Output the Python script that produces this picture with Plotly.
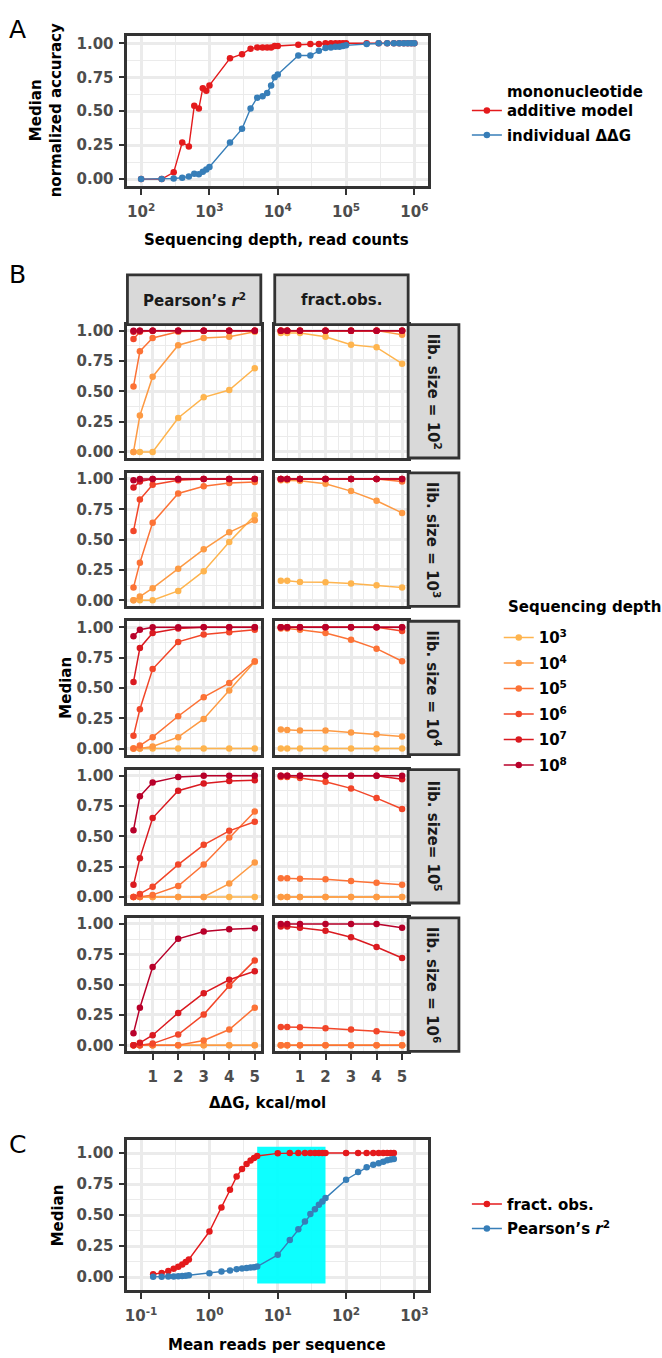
import plotly.graph_objects as go

W, H = 662, 1358

# ---------------- Panel A data ----------------
seq_depth_a = [100, 200, 300, 400, 500, 600, 700, 800, 900,
               1000, 2000, 3000, 4000, 5000, 6000, 7000, 8000, 9000,
               10000, 20000, 30000, 40000, 50000, 60000, 70000, 80000, 90000,
               100000, 200000, 300000, 400000, 500000, 600000, 700000, 800000, 900000,
               1000000]
acc_additive = [0, 0, 0.05, 0.27, 0.24, 0.54, 0.52, 0.67, 0.65,
                0.69, 0.89, 0.92, 0.96, 0.97, 0.97, 0.97, 0.97, 0.98,
                0.98, 0.99, 0.995, 0.995, 1, 1, 1, 1, 1,
                1, 1, 1, 1, 1, 1, 1, 1, 1,
                1]
acc_individual = [0, 0, 0.005, 0.01, 0.02, 0.04, 0.035, 0.055, 0.07,
                  0.09, 0.27, 0.37, 0.52, 0.60, 0.61, 0.635, 0.69, 0.75,
                  0.77, 0.91, 0.91, 0.945, 0.965, 0.97, 0.975, 0.975, 0.98,
                  0.985, 0.995, 1, 1, 1, 1, 1, 1, 1,
                  1]
series_a_names = ["mononucleotide<br>additive model", "individual ΔΔG"]
a_xticks = [1e2, 1e3, 1e4, 1e5, 1e6]
a_xticktext = ["10<sup>2</sup>", "10<sup>3</sup>", "10<sup>4</sup>", "10<sup>5</sup>", "10<sup>6</sup>"]

# ---------------- Panel B data ----------------
ddg_kcal = [0.25, 0.5, 1, 2, 3, 4, 5]
depth_labels = ["10<sup>3</sup>", "10<sup>4</sup>", "10<sup>5</sup>",
                "10<sup>6</sup>", "10<sup>7</sup>", "10<sup>8</sup>"]
depth_legend_title = "Sequencing depth"
lib_labels = ["lib. size = 10<sup>2</sup>", "lib. size = 10<sup>3</sup>",
              "lib. size = 10<sup>4</sup>", "lib. size= 10<sup>5</sup>",
              "lib. size = 10<sup>6</sup>"]
metric_labels = ["Pearson’s <i>r</i><sup>2</sup>", "fract.obs."]

# Pearson's r^2 ; one list per sequencing depth 10^3 .. 10^8
pearson_lib1e2 = [
    [0, 0, 0, 0.28, 0.45, 0.51, 0.69],
    [0, 0.30, 0.62, 0.88, 0.94, 0.95, 0.99],
    [0.54, 0.83, 0.94, 0.99, 1.0, 1.0, 1.0],
    [0.93, 0.99, 1.0, 1.0, 1.0, 1.0, 1.0],
    [0.99, 1.0, 1.0, 1.0, 1.0, 1.0, 1.0],
    [1.0, 1.0, 1.0, 1.0, 1.0, 1.0, 1.0],
]
pearson_lib1e3 = [
    [0, 0, 0, 0.077, 0.24, 0.48, 0.70],
    [0, 0.03, 0.10, 0.26, 0.42, 0.56, 0.66],
    [0.105, 0.31, 0.64, 0.88, 0.94, 0.967, 0.975],
    [0.57, 0.83, 0.953, 0.99, 1.0, 1.0, 1.0],
    [0.93, 0.98, 1.0, 1.0, 1.0, 1.0, 1.0],
    [0.99, 1.0, 1.0, 1.0, 1.0, 1.0, 1.0],
]
pearson_lib1e4 = [
    [0, 0, 0, 0, 0, 0, 0],
    [0, 0, 0.017, 0.094, 0.245, 0.48, 0.716],
    [0, 0.025, 0.094, 0.267, 0.424, 0.54, 0.72],
    [0.105, 0.325, 0.656, 0.88, 0.94, 0.96, 0.98],
    [0.55, 0.83, 0.953, 0.99, 1.0, 1.0, 1.0],
    [0.926, 0.98, 1.0, 1.0, 1.0, 1.0, 1.0],
]
pearson_lib1e5 = [
    [0, 0, 0, 0, 0, 0, 0],
    [0, 0, 0, 0, 0, 0.11, 0.284],
    [0, 0, 0.017, 0.09, 0.267, 0.49, 0.705],
    [0, 0.025, 0.085, 0.267, 0.43, 0.545, 0.62],
    [0.10, 0.32, 0.65, 0.876, 0.936, 0.955, 0.963],
    [0.55, 0.83, 0.944, 0.99, 1.0, 1.0, 1.0],
]
pearson_lib1e6 = [
    [0, 0, 0, 0, 0, 0, 0],
    [0, 0, 0, 0, 0, 0, 0],
    [0, 0, 0, 0, 0.04, 0.13, 0.31],
    [0, 0, 0.014, 0.088, 0.253, 0.49, 0.70],
    [0, 0.02, 0.083, 0.267, 0.43, 0.54, 0.61],
    [0.10, 0.31, 0.645, 0.878, 0.938, 0.957, 0.965],
]

# fraction observed ; one list per sequencing depth 10^3 .. 10^8
fractobs_lib1e2 = [
    [0.98, 0.98, 0.98, 0.95, 0.884, 0.862, 0.727],
    [1, 1, 1, 1, 1, 1, 0.967],
    [1, 1, 1, 1, 1, 1, 1],
    [1, 1, 1, 1, 1, 1, 1],
    [1, 1, 1, 1, 1, 1, 1],
    [1, 1, 1, 1, 1, 1, 1],
]
fractobs_lib1e3 = [
    [0.16, 0.16, 0.15, 0.149, 0.138, 0.124, 0.105],
    [0.99, 0.99, 0.986, 0.96, 0.90, 0.82, 0.72],
    [1, 1, 1, 1, 1, 1, 0.98],
    [1, 1, 1, 1, 1, 1, 1],
    [1, 1, 1, 1, 1, 1, 1],
    [1, 1, 1, 1, 1, 1, 1],
]
fractobs_lib1e4 = [
    [0, 0, 0, 0, 0, 0, 0],
    [0.157, 0.154, 0.15, 0.149, 0.132, 0.118, 0.10],
    [0.99, 0.99, 0.98, 0.953, 0.898, 0.824, 0.72],
    [1, 1, 1, 1, 1, 1, 0.97],
    [1, 1, 1, 1, 1, 1, 1],
    [1, 1, 1, 1, 1, 1, 1],
]
fractobs_lib1e5 = [
    [0, 0, 0, 0, 0, 0, 0],
    [0, 0, 0, 0, 0, 0, 0],
    [0.154, 0.154, 0.15, 0.146, 0.132, 0.118, 0.10],
    [0.99, 0.99, 0.98, 0.95, 0.895, 0.815, 0.725],
    [1, 1, 1, 1, 1, 1, 0.97],
    [1, 1, 1, 1, 1, 1, 1],
]
fractobs_lib1e6 = [
    [0, 0, 0, 0, 0, 0, 0],
    [0, 0, 0, 0, 0, 0, 0],
    [0, 0, 0, 0, 0, 0, 0],
    [0.15, 0.15, 0.149, 0.14, 0.13, 0.116, 0.10],
    [0.98, 0.98, 0.97, 0.944, 0.89, 0.81, 0.72],
    [1, 1, 1, 1, 1, 1, 0.97],
]

# ---------------- Panel C data ----------------
reads_per_seq = [0.15, 0.2, 0.25, 0.3, 0.35, 0.4, 0.45, 0.5,
                 1, 1.5, 2, 2.5, 3, 3.5, 4, 4.5, 5,
                 10, 15, 20, 25, 30, 35, 40, 45, 50,
                 100, 150, 200, 250, 300, 350, 400, 450, 500]
fract_obs_c = [0.024, 0.035, 0.05, 0.068, 0.085, 0.103, 0.122, 0.143,
               0.368, 0.562, 0.705, 0.81, 0.871, 0.911, 0.939, 0.96, 0.976,
               0.997, 0.999, 1, 1, 1, 1, 1, 1, 1,
               1, 1, 1, 1, 1, 1, 1, 1, 1]
pearson_c = [0.003, 0.004, 0.005, 0.006, 0.008, 0.01, 0.012, 0.016,
             0.032, 0.046, 0.054, 0.065, 0.07, 0.075, 0.078, 0.081, 0.086,
             0.18, 0.30, 0.387, 0.449, 0.508, 0.548, 0.584, 0.61, 0.637,
             0.785, 0.847, 0.885, 0.905, 0.918, 0.93, 0.941, 0.948, 0.952]
series_c_names = ["fract. obs.", "Pearson’s <i>r</i><sup>2</sup>"]
highlight_reads = [5, 50]
highlight_median = [-0.05, 1.05]
c_xticks = [0.1, 1, 10, 100, 1000]
c_xticktext = ["10<sup>-1</sup>", "10<sup>0</sup>", "10<sup>1</sup>", "10<sup>2</sup>", "10<sup>3</sup>"]

y_ticks = [0, 0.25, 0.5, 0.75, 1.0]
y_ticktext = ["0.00", "0.25", "0.50", "0.75", "1.00"]
b_xticks = [1, 2, 3, 4, 5]

# ---------------- style ----------------
FONT = "DejaVu Sans"
GRID = "#EBEBEB"
BORDER = "#333333"
TICKC = "#4D4D4D"
RED = "#E41A1C"
BLUE = "#377EB8"
depth_colors = ["#FEB44E", "#FD9A44", "#FC7236", "#F24629", "#DA1A20", "#B8002A"]

pearson_by_lib = [pearson_lib1e2, pearson_lib1e3, pearson_lib1e4, pearson_lib1e5, pearson_lib1e6]
fractobs_by_lib = [fractobs_lib1e2, fractobs_lib1e3, fractobs_lib1e4, fractobs_lib1e5, fractobs_lib1e6]


def fx(px):
    return px / W


def fy(py):
    return 1 - py / H


def tfont(size=15, color=TICKC, bold=True):
    return dict(family=FONT, size=size, color=color, weight="bold" if bold else "normal")


def base_axis(letter, **kw):
    d = dict(showline=True, mirror=True, linecolor=BORDER, linewidth=2.8,
             showgrid=True, gridcolor=GRID, gridwidth=2.6, zeroline=False,
             ticks="outside", ticklen=6, tickwidth=2.2, tickcolor=BORDER,
             ticklabelstandoff=4 if letter == "x" else 2,
             tickfont=tfont(), layer="above traces")
    d.update(kw)
    return d


def aname(i, letter):
    return f"{letter}axis" if i == 1 else f"{letter}axis{i}"


def aref(i, letter):
    return letter if i == 1 else f"{letter}{i}"


fig = go.Figure()
layout = dict(width=W, height=H, margin=dict(l=0, r=0, t=0, b=0), autosize=False,
              paper_bgcolor="white", plot_bgcolor="white", showlegend=True)
shapes = []
annotations = []

# ---------------- Panel A ----------------
for name, vals, col in [(series_a_names[0], acc_additive, RED),
                        (series_a_names[1], acc_individual, BLUE)]:
    fig.add_trace(go.Scatter(x=seq_depth_a, y=vals, mode="lines+markers", name=name,
                             line=dict(color=col, width=1.4), marker=dict(color=col, size=6.5),
                             xaxis="x", yaxis="y", legend="legend", legendgroup=name))

layout[aname(1, "x")] = base_axis("x", domain=[fx(125), fx(427)], anchor="y", type="log",
                                  range=[1.8, 6.2], tickmode="array", tickvals=a_xticks,
                                  ticktext=a_xticktext,
                                  minor=dict(tickmode="array",
                                             tickvals=[10 ** 2.5, 10 ** 3.5, 10 ** 4.5, 10 ** 5.5],
                                             showgrid=True, gridcolor=GRID, gridwidth=1.3, ticks=""))
layout[aname(1, "y")] = base_axis("y", domain=[fy(184), fy(33)], anchor="x", range=[-0.052, 1.055],
                                  tickmode="array", tickvals=y_ticks, ticktext=y_ticktext,
                                  minor=dict(tickmode="array", tickvals=[0.125, 0.375, 0.625, 0.875],
                                             showgrid=True, gridcolor=GRID, gridwidth=1.3, ticks=""))

# ---------------- Panel B ----------------
col_x = [(125, 259), (273, 407)]
row_y = [(323, 457), (472, 606), (621, 755), (770, 904), (919, 1053)]

for r in range(5):
    for c in range(2):
        i = 2 + r * 2 + c
        data = pearson_by_lib[r] if c == 0 else fractobs_by_lib[r]
        for d in range(6):
            fig.add_trace(go.Scatter(x=ddg_kcal, y=data[d], mode="lines+markers",
                                     name=depth_labels[d],
                                     line=dict(color=depth_colors[d], width=1.5),
                                     marker=dict(color=depth_colors[d], size=6.5),
                                     xaxis=aref(i, "x"), yaxis=aref(i, "y"),
                                     legend="legend2", legendgroup=depth_labels[d],
                                     showlegend=(r == 0 and c == 0)))
        bottom = (r == 4)
        left = (c == 0)
        layout[aname(i, "x")] = base_axis(
            "x", domain=[fx(col_x[c][0]), fx(col_x[c][1])], anchor=aref(i, "y"),
            range=[0.0125, 5.2375], tickmode="array", tickvals=b_xticks,
            ticks="outside" if bottom else "", showticklabels=bottom,
            minor=dict(tickmode="array", tickvals=[0.5, 1.5, 2.5, 3.5, 4.5],
                       showgrid=True, gridcolor=GRID, gridwidth=1.3, ticks=""))
        layout[aname(i, "y")] = base_axis(
            "y", domain=[fy(row_y[r][1]), fy(row_y[r][0])], anchor=aref(i, "x"),
            range=[-0.05, 1.05], tickmode="array", tickvals=y_ticks, ticktext=y_ticktext,
            ticks="outside" if left else "", showticklabels=left,
            minor=dict(tickmode="array", tickvals=[0.125, 0.375, 0.625, 0.875],
                       showgrid=True, gridcolor=GRID, gridwidth=1.3, ticks=""))

# strips
STRIP_FILL = "#D9D9D9"
for c in range(2):
    shapes.append(dict(type="rect", xref="paper", yref="paper",
                       x0=fx(col_x[c][0]), x1=fx(col_x[c][1]), y0=fy(323), y1=fy(273),
                       fillcolor=STRIP_FILL, line=dict(color=BORDER, width=2.8), layer="above"))
    annotations.append(dict(text=metric_labels[c], x=fx((col_x[c][0] + col_x[c][1]) / 2), y=fy(298),
                            xref="paper", yref="paper", showarrow=False,
                            font=tfont(15, "#1A1A1A"), xanchor="center", yanchor="middle"))
for r in range(5):
    shapes.append(dict(type="rect", xref="paper", yref="paper",
                       x0=fx(407), x1=fx(458), y0=fy(row_y[r][1]), y1=fy(row_y[r][0]),
                       fillcolor=STRIP_FILL, line=dict(color=BORDER, width=2.8), layer="above"))
    annotations.append(dict(text=lib_labels[r], x=fx(432.5), y=fy((row_y[r][0] + row_y[r][1]) / 2),
                            xref="paper", yref="paper", showarrow=False, textangle=90,
                            font=tfont(15, "#1A1A1A"), xanchor="center", yanchor="middle"))

# ---------------- Panel C ----------------
for name, vals, col in [(series_c_names[0], fract_obs_c, RED),
                        (series_c_names[1], pearson_c, BLUE)]:
    fig.add_trace(go.Scatter(x=reads_per_seq, y=vals, mode="lines+markers", name=name,
                             line=dict(color=col, width=1.4), marker=dict(color=col, size=6.5),
                             xaxis="x12", yaxis="y12", legend="legend3", legendgroup=name))

layout[aname(12, "x")] = base_axis("x", domain=[fx(125), fx(427)], anchor="y12", type="log",
                                   range=[-1.2, 3.2], tickmode="array", tickvals=c_xticks,
                                   ticktext=c_xticktext,
                                   minor=dict(tickmode="array",
                                              tickvals=[10 ** -0.5, 10 ** 0.5, 10 ** 1.5, 10 ** 2.5],
                                              showgrid=True, gridcolor=GRID, gridwidth=1.3, ticks=""))
layout[aname(12, "y")] = base_axis("y", domain=[fy(1293), fy(1142)], anchor="x12", range=[-0.105, 1.105],
                                   tickmode="array", tickvals=y_ticks, ticktext=y_ticktext,
                                   minor=dict(tickmode="array", tickvals=[0.125, 0.375, 0.625, 0.875],
                                              showgrid=True, gridcolor=GRID, gridwidth=1.3, ticks=""))
shapes.append(dict(type="rect", xref="x12", yref="y12",
                   x0=highlight_reads[0], x1=highlight_reads[1],
                   y0=highlight_median[0], y1=highlight_median[1],
                   fillcolor="#00FFFF", opacity=0.95, line=dict(width=0), layer="between"))

# ---------------- text ----------------
def ann(text, x, y, size=15, color="black", bold=True, angle=0, xanchor="center"):
    annotations.append(dict(text=text, x=fx(x), y=fy(y), xref="paper", yref="paper",
                            showarrow=False, textangle=angle, font=tfont(size, color, bold),
                            xanchor=xanchor, yanchor="middle"))


ann("A", 15, 27, size=25, bold=False)
ann("B", 15, 273, size=25, bold=False)
ann("C", 15, 1147, size=25, bold=False)
ann("Median<br>normalized accuracy", 43, 108, angle=-90)
ann("Sequencing depth, read counts", 275, 238)
ann("Median", 63, 688, angle=-90)
ann("ΔΔG, kcal/mol", 266, 1105)
ann("Median", 55, 1218, angle=-90)
ann("Mean reads per sequence", 275, 1348)
ann(depth_legend_title, 505, 607, xanchor="left")

legend_font = tfont(15, "black")
layout["legend"] = dict(x=fx(466), y=fy(72), xanchor="left", yanchor="top", font=legend_font,
                        bgcolor="rgba(0,0,0,0)", tracegroupgap=2, valign="bottom")
layout["legend2"] = dict(x=fx(498), y=fy(621), xanchor="left", yanchor="top", font=legend_font,
                         bgcolor="rgba(0,0,0,0)", tracegroupgap=3)
layout["legend3"] = dict(x=fx(466), y=fy(1190), xanchor="left", yanchor="top", font=legend_font,
                         bgcolor="rgba(0,0,0,0)", tracegroupgap=2)

layout["shapes"] = shapes
layout["annotations"] = annotations
fig.update_layout(**layout)

fig.write_html("out.html",
               config={"displayModeBar": False},
               post_script="document.body.style.margin='0px';"
                           "document.body.style.padding='0px';"
                           "document.body.style.overflow='hidden';")
